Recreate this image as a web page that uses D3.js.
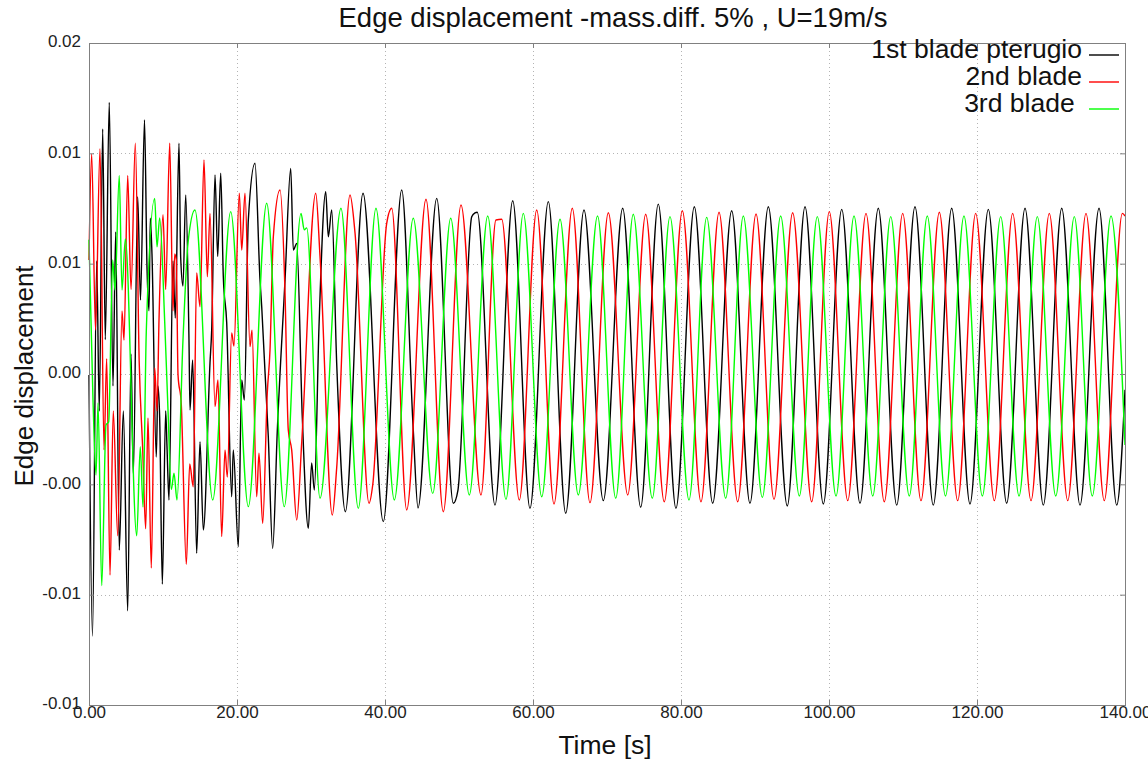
<!DOCTYPE html>
<html>
<head>
<meta charset="utf-8">
<script src="https://cdn.jsdelivr.net/npm/d3@7"></script>
<style>
  html, body { margin: 0; padding: 0; background: #fff; }
  svg { display: block; font-family: "Liberation Sans", Arial, sans-serif; }
  .legend-label { white-space: pre; }
</style>
</head>
<body>
<svg id="chart" width="1148" height="760"></svg>
<script>
// Edge displacement time histories of the three blades: [time (s), displacement]
const seriesNames = ["1st blade pterugio", "2nd blade", "3rd blade "];

const blade1 = [
  [0.00,0.00246],[0.47,-0.00937],[1.04,0.00762],[1.39,0.00082],[1.85,0.01360],[2.20,0.00406],[2.74,0.01481],
  [3.24,0.00196],[3.61,0.00894],[4.09,-0.00548],[4.64,0.00082],[5.23,-0.00823],[5.68,0.00341],[5.99,-0.00208],
  [6.58,0.01053],[6.96,0.00585],[7.50,0.01401],[7.84,0.00730],[8.11,0.00536],[8.28,0.00956],[8.51,0.00794],
  [9.09,-0.00126],[9.32,0.00196],[9.55,0.00051],[9.91,-0.00702],[10.36,0.00082],[10.54,-0.00079],[10.81,-0.00321],
  [11.35,0.00762],[11.66,0.00504],[12.16,0.01296],[12.39,0.00778],[12.70,0.00649],[13.07,0.01061],[13.51,0.00406],
  [13.65,0.00087],[14.01,0.00314],[14.55,-0.00563],[15.00,-0.00057],[15.45,-0.00457],[16.35,0.00300],[16.58,0.00449],
  [17.03,0.01152],[17.39,0.00782],[17.80,0.01160],[18.15,0.00691],[18.61,0.00481],[19.28,-0.00306],[19.50,-0.00094],
  [20.18,-0.00533],[20.64,0.00223],[20.99,0.00132],[21.53,0.00948],[22.43,0.01205],[23.11,0.00676],[23.34,0.00555],
  [24.23,-0.00034],[24.82,-0.00540],[25.45,-0.00004],[26.49,0.00676],[27.26,0.01182],[27.61,0.00812],[28.07,0.00842],
  [28.82,0.00057],[29.64,-0.00449],[30.09,-0.00153],[30.45,-0.00276],[31.08,0.00464],[31.99,0.01076],[32.34,0.00872],
  [32.80,0.00993],[33.47,0.00300],[34.64,-0.00374],[37.03,0.01069],[39.77,-0.00419],[42.26,0.01084],[43.82,-0.00004],
  [44.46,-0.00357],[46.99,0.01046],[49.23,-0.00336],[49.86,-0.00276],[51.72,0.00963],[52.16,0.00980],[52.47,0.00983],
  [54.86,-0.00344],[57.26,0.01035],[59.59,-0.00359],[62.07,0.01031],[64.42,-0.00381],[66.89,0.00993],[69.50,-0.00324],
  [72.12,0.01001],[74.55,-0.00354],[76.93,0.01020],[79.32,-0.00359],[81.80,0.01008],[84.28,-0.00336],[86.85,0.00990],
  [89.32,-0.00336],[91.80,0.01008],[94.36,-0.00348],[96.76,0.01008],[99.23,-0.00339],[101.72,0.00996],[104.19,-0.00336],
  [106.66,0.01001],[109.15,-0.00344],[111.62,0.01008],[114.09,-0.00344],[116.58,0.01001],[119.05,-0.00339],
  [121.53,0.00996],[124.01,-0.00336],[126.49,0.01001],[128.96,-0.00344],[131.45,0.01001],[133.92,-0.00344],
  [136.49,0.01001],[138.88,-0.00344],[140.00,0.00178]
];

const blade2 = [
  [0.00,0.00767],[0.36,0.01247],[0.88,0.00449],[1.49,0.01271],[2.03,-0.00094],[2.39,0.00319],[2.84,-0.00661],
  [3.28,0.00082],[3.88,-0.00483],[4.46,0.00536],[4.73,0.00404],[5.23,0.01150],[5.68,0.00633],[6.26,0.01296],
  [6.78,0.00309],[7.26,-0.00094],[7.66,-0.00451],[7.97,0.00051],[8.42,-0.00629],[8.88,0.00277],[9.19,0.00082],
  [9.46,0.00495],[10.00,0.00972],[10.36,0.00633],[10.91,0.01296],[11.35,0.00536],[11.58,0.00794],[11.80,0.00767],
  [12.03,0.00246],[12.47,0.00114],[13.15,-0.00612],[13.61,-0.00158],[14.09,-0.00261],[14.55,0.00708],[15.00,0.00555],
  [15.54,0.01220],[15.99,0.00691],[16.35,0.00978],[17.03,0.00102],[17.43,0.00223],[17.93,-0.00487],[18.38,-0.00094],
  [18.69,-0.00217],[19.28,0.00436],[19.59,0.00377],[20.31,0.01069],[20.64,0.00812],[21.08,0.01069],[21.76,0.00374],
  [22.03,0.00449],[22.66,-0.00306],[22.97,-0.00109],[23.47,-0.00427],[24.09,0.00163],[24.46,0.00359],[24.91,0.00872],
  [25.81,0.01084],[26.49,0.00617],[26.93,-0.00004],[27.39,-0.00094],[28.07,-0.00412],[28.74,-0.00063],[30.64,0.01069],
  [31.22,0.00782],[32.88,-0.00389],[33.47,-0.00176],[35.27,0.01061],[35.95,0.00889],[37.84,-0.00336],[38.34,-0.00253],
  [40.23,0.00933],[40.91,0.01001],[42.93,-0.00366],[45.54,0.01042],[47.88,-0.00374],[50.27,0.01016],[52.97,-0.00298],
  [54.99,0.00948],[55.77,0.00951],[58.15,-0.00321],[60.50,0.00993],[62.84,-0.00339],[65.31,0.01001],[67.70,-0.00333],
  [70.18,0.00981],[72.80,-0.00298],[75.23,0.00974],[77.74,-0.00329],[80.18,0.00990],[82.70,-0.00329],[85.14,0.00983],
  [87.66,-0.00329],[90.14,0.00975],[92.57,-0.00318],[95.09,0.00981],[97.66,-0.00329],[100.04,0.00986],[102.53,-0.00324],
  [105.00,0.00978],[107.47,-0.00329],[109.96,0.00978],[112.43,-0.00324],[114.91,0.00983],[117.39,-0.00324],
  [119.82,0.00978],[122.34,-0.00324],[124.82,0.00978],[127.30,-0.00324],[129.77,0.00978],[132.26,-0.00324],
  [134.73,0.00978],[137.20,-0.00324],[139.64,0.00978],[140.00,0.00966]
];

const blade3 = [
  [0.00,0.00859],[0.54,0.00132],[0.95,-0.00208],[1.22,0.00119],[1.72,-0.00709],[2.30,0.00019],[2.66,0.00033],
  [3.20,0.00767],[3.51,0.00631],[4.09,0.01150],[4.46,0.00631],[4.91,0.00862],[6.45,-0.00483],[6.93,-0.00079],
  [7.30,-0.00353],[7.74,0.00440],[8.88,0.01045],[9.19,0.00826],[9.55,0.00957],[10.23,0.00487],[10.68,0.00083],
  [11.12,-0.00273],[11.49,-0.00200],[11.89,-0.00321],[12.70,0.00404],[13.38,0.00843],[14.32,0.00993],[16.72,-0.00321],
  [19.15,0.00986],[21.53,-0.00351],[24.01,0.01024],[26.39,-0.00351],[28.65,0.00978],[29.09,0.00903],[29.42,0.00912],
  [31.22,-0.00313],[34.05,0.01001],[36.39,-0.00359],[38.78,0.01001],[41.26,-0.00321],[43.82,0.00956],[46.45,-0.00291],
  [48.88,0.00956],[51.39,-0.00298],[53.88,0.00966],[56.35,-0.00318],[58.69,0.00978],[61.18,-0.00306],[63.65,0.00951],
  [66.12,-0.00298],[68.72,0.00966],[71.18,-0.00313],[73.55,0.00974],[76.12,-0.00313],[78.51,0.00963],[81.08,-0.00321],
  [83.47,0.00960],[86.04,-0.00313],[88.42,0.00966],[90.99,-0.00309],[93.47,0.00966],[95.99,-0.00303],[98.42,0.00963],
  [100.95,-0.00303],[103.38,0.00966],[105.91,-0.00303],[108.34,0.00963],[110.85,-0.00303],[113.28,0.00966],
  [115.74,-0.00303],[118.24,0.00966],[120.72,-0.00303],[123.20,0.00963],[125.68,-0.00303],[128.15,0.00963],
  [130.64,-0.00303],[133.15,0.00963],[135.58,-0.00303],[138.11,0.00966],[140.00,-0.00072]
];

const xTicks = [0, 20, 40, 60, 80, 100, 120, 140];
const xTickLabels = ["0.00", "20.00", "40.00", "60.00", "80.00", "100.00", "120.00", "140.00"];
const yTicks = [-0.0125, -0.0075, -0.0025, 0.0025, 0.0075, 0.0125, 0.0175];
const yTickLabels = ["-0.01", "-0.01", "-0.00", "0.00", "0.01", "0.01", "0.02"];

const titleText = "Edge displacement -mass.diff. 5% , U=19m/s";
const xTitle = "Time [s]";
const yTitle = "Edge displacement";

// ---- layout ----
const W = 1148, H = 760;
const margin = { top: 43, right: 23, bottom: 55, left: 89 };
const svg = d3.select("#chart");

const x = d3.scaleLinear().domain([0, 140]).range([margin.left, W - margin.right]);
const y = d3.scaleLinear().domain([-0.0125, 0.0175]).range([H - margin.bottom, margin.top]);

const series = [
  { name: seriesNames[0], data: blade1, color: "#000000" },
  { name: seriesNames[1], data: blade2, color: "#ff0000" },
  { name: seriesNames[2], data: blade3, color: "#00ff00" }
];

// grid
const grid = svg.append("g").attr("stroke", "#b4b4b4").attr("stroke-width", 1)
  .attr("stroke-dasharray", "1,3").attr("shape-rendering", "crispEdges");
grid.selectAll("line.gx").data(xTicks.slice(1, -1)).join("line")
  .attr("x1", d => Math.round(x(d)) + 0.5).attr("x2", d => Math.round(x(d)) + 0.5)
  .attr("y1", y.range()[1]).attr("y2", y.range()[0]);
grid.selectAll("line.gy").data(yTicks.slice(1, -1)).join("line")
  .attr("x1", x.range()[0]).attr("x2", x.range()[1])
  .attr("y1", d => Math.round(y(d)) + 0.5).attr("y2", d => Math.round(y(d)) + 0.5);

// curves
const plot = svg.append("g");
const line = d3.line().x(d => x(d[0])).y(d => y(d[1])).curve(d3.curveMonotoneX);
plot.selectAll("path.series").data(series).join("path")
  .attr("class", "series")
  .attr("fill", "none")
  .attr("stroke", d => d.color)
  .attr("stroke-width", 1.4)
  .attr("stroke-linejoin", "round")
  .attr("d", d => line(d.data));

// frame
svg.append("rect")
  .attr("x", x.range()[0] + 0.5).attr("y", y.range()[1] + 0.5)
  .attr("width", x.range()[1] - x.range()[0]).attr("height", y.range()[0] - y.range()[1])
  .attr("fill", "none").attr("stroke", "#808080").attr("stroke-width", 1);

// axes
const tickLen = 5;
const styleAxis = g => {
  g.select(".domain").remove();
  g.selectAll(".tick line").attr("stroke", "#808080");
  g.selectAll(".tick text").attr("fill", "#222").style("font-size", "17px");
};

svg.append("g").attr("transform", `translate(0,${y.range()[0]})`)
  .call(d3.axisBottom(x).tickValues(xTicks).tickFormat((d, i) => xTickLabels[i])
    .tickSizeInner(-tickLen).tickSizeOuter(0).tickPadding(1))
  .call(styleAxis);

svg.append("g").attr("transform", `translate(${x.range()[0]},0)`)
  .call(d3.axisLeft(y).tickValues(yTicks).tickFormat((d, i) => yTickLabels[i])
    .tickSizeInner(-tickLen).tickSizeOuter(0).tickPadding(8))
  .call(styleAxis)
  .call(g => g.selectAll(".tick text").attr("dy", "0.22em"));

svg.append("g").attr("transform", `translate(${x.range()[1]},0)`)
  .call(d3.axisRight(y).tickValues(yTicks).tickFormat(() => "")
    .tickSizeInner(-tickLen).tickSizeOuter(0))
  .call(styleAxis);

svg.append("g").attr("transform", `translate(0,${y.range()[1]})`)
  .call(d3.axisTop(x).tickValues(xTicks).tickFormat(() => "")
    .tickSizeInner(-tickLen).tickSizeOuter(0))
  .call(styleAxis);

// titles
svg.append("text").attr("x", 613).attr("y", 27).attr("text-anchor", "middle")
  .attr("fill", "#111").style("font-size", "27.5px").text(titleText);
svg.append("text").attr("x", 605).attr("y", 754).attr("text-anchor", "middle")
  .attr("fill", "#111").style("font-size", "26.5px").text(xTitle);
svg.append("text").attr("transform", "translate(33,376) rotate(-90)").attr("text-anchor", "middle")
  .attr("fill", "#111").style("font-size", "26px").text(yTitle);

// legend
const legend = svg.append("g");
const legendRows = legend.selectAll("g").data(series).join("g")
  .attr("transform", (d, i) => `translate(0,${55 + i * 27})`);
legendRows.append("text").attr("class", "legend-label")
  .attr("x", 1082).attr("y", 3).attr("text-anchor", "end")
  .attr("fill", "#111").style("font-size", "26.5px").text(d => d.name);
legendRows.append("line").attr("x1", 1089).attr("x2", 1119).attr("y1", 0).attr("y2", 0)
  .attr("stroke", d => d.color).attr("stroke-width", 1.4);
</script>
</body>
</html>
